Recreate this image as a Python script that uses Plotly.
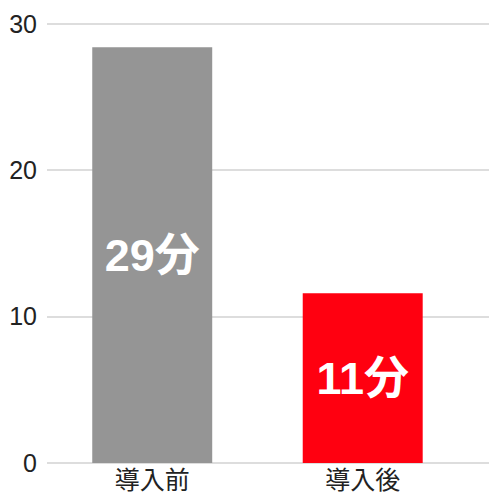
import plotly.graph_objects as go

categories = ["導入前", "導入後"]
minutes = [28.4, 11.6]
labels = ["29分", "11分"]
colors = ["#959595", "#ff0010"]

fig = go.Figure(
    go.Bar(
        x=categories,
        y=minutes,
        text=labels,
        marker=dict(color=colors, line=dict(width=0)),
        textposition="inside",
        insidetextanchor="middle",
        textangle=0,
        textfont=dict(family="Liberation Sans, Noto Sans CJK JP", size=45,
                      color="white", weight="bold"),
    )
)

# page body has an 8px margin, so the figure is a bit smaller than the window
fig.update_layout(
    width=492,
    height=492,
    margin=dict(l=39, r=11, t=13, b=37, autoexpand=False),
    paper_bgcolor="white",
    plot_bgcolor="white",
    bargap=0.43,
    showlegend=False,
    font=dict(family="Noto Sans CJK JP", color="#222222"),
)
fig.update_xaxes(
    range=[-0.5, 1.6],
    showgrid=False,
    showline=False,
    ticks="",
    automargin=False,
    tickfont=dict(size=25),
)
fig.update_yaxes(
    range=[0, 30.2],
    tickvals=[0, 10, 20, 30],
    gridcolor="#dddddd",
    gridwidth=2,
    zeroline=True,
    zerolinecolor="#dddddd",
    zerolinewidth=2,
    ticks="",
    automargin=False,
    ticklabelstandoff=9,
    ticklabeloverflow="allow",
    tickfont=dict(size=25, family="Liberation Sans"),
)

fig.write_html("out.html")
